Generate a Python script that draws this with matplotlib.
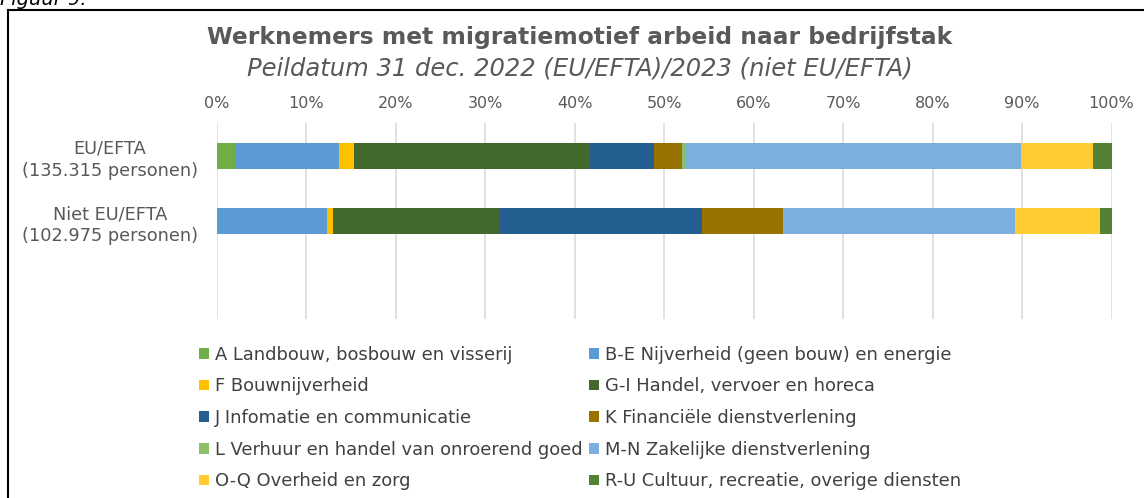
import numpy as np
import matplotlib
matplotlib.use("Agg")
import matplotlib.pyplot as plt
from matplotlib.lines import Line2D

plt.rcParams['font.family'] = ['DejaVu Sans']

# sector shares (%)
sectors = ["A Landbouw, bosbouw en visserij",
           "B-E Nijverheid (geen bouw) en energie",
           "F Bouwnijverheid",
           "G-I Handel, vervoer en horeca",
           "J Infomatie en communicatie",
           "K Financiële dienstverlening",
           "L Verhuur en handel van onroerend goed",
           "M-N Zakelijke dienstverlening",
           "O-Q Overheid en zorg",
           "R-U Cultuur, recreatie, overige diensten"]
eu_efta = [2.05, 11.6, 1.7, 26.4, 7.1, 3.2, 0.3, 37.5, 8.1, 2.05]
niet_eu = [0.1, 12.2, 0.75, 18.6, 22.6, 9.0, 0.1, 25.9, 9.5, 1.25]
groups = ["EU/EFTA\n(135.315 personen)", "Niet EU/EFTA\n(102.975 personen)", ""]
ticks = [0, 10, 20, 30, 40, 50, 60, 70, 80, 90, 100]

colors = ["#70AD47", "#5B9BD5", "#FFC000", "#43682B", "#255E91",
          "#997300", "#8CC168", "#7CAFDD", "#FFCD33", "#548235"]

fig = plt.figure(figsize=(11.44, 4.98), dpi=100)
ax = fig.add_axes([0.1894, 0.3594, 0.7822, 0.3936])

data = np.array([eu_efta, niet_eu, [0] * len(sectors)])
ypos = np.arange(len(groups))
left = np.zeros(len(groups))
bars = []
for i, name in enumerate(sectors):
    b = ax.barh(ypos, data[:, i], left=left, height=0.4, color=colors[i], label=name, zorder=3)
    bars.append(b)
    left += data[:, i]

ax.set_xlim(0, 100)
ax.set_ylim(2.5, -0.5)
ax.set_xticks(ticks)
ax.set_xticklabels(["%d%%" % t for t in ticks])
ax.xaxis.tick_top()
ax.set_yticks(ypos)
ax.set_yticklabels(groups)
for lab in ax.get_yticklabels():
    lab.set_ha("center")
    lab.set_multialignment("center")
    lab.set_linespacing(1.3)
ax.tick_params(axis="y", length=0, pad=77, labelsize=12.8, labelcolor="#595959")
ax.tick_params(axis="x", length=0, pad=8.5, labelsize=11.5, labelcolor="#595959")
ax.grid(axis="x", color="#D9D9D9", lw=1.1, zorder=0)
for s in ax.spines.values():
    s.set_visible(False)

fig.text(0.507, 0.924, "Werknemers met migratiemotief arbeid naar bedrijfstak",
         ha="center", va="center", fontsize=16.8, fontweight="bold", color="#595959")
fig.text(0.507, 0.863, "Peildatum 31 dec. 2022 (EU/EFTA)/2023 (niet EU/EFTA)",
         ha="center", va="center", fontsize=17.5, style="italic", color="#595959")
fig.text(0.0, 0.99, "Figuur 9.", ha="left", va="baseline", fontsize=14, style="italic", color="black")

# legend filled row by row like the original
order = [0, 2, 4, 6, 8, 1, 3, 5, 7, 9]
fig.legend([bars[i] for i in order], [sectors[i] for i in order], ncol=2,
           loc="upper left", bbox_to_anchor=(0.168, 0.32), frameon=False,
           fontsize=12.9, labelcolor="#404040", handlelength=0.55, handleheight=0.55,
           handletextpad=0.3, columnspacing=0.4, labelspacing=0.76, borderaxespad=0)

# frame lines of the figure box
fig.add_artist(Line2D([0.007, 1.0], [0.98, 0.98], color="black", lw=1.5, transform=fig.transFigure))
fig.add_artist(Line2D([0.007, 0.007], [0.0, 0.98], color="black", lw=1.5, transform=fig.transFigure))

fig.savefig("out.png", dpi=100)
